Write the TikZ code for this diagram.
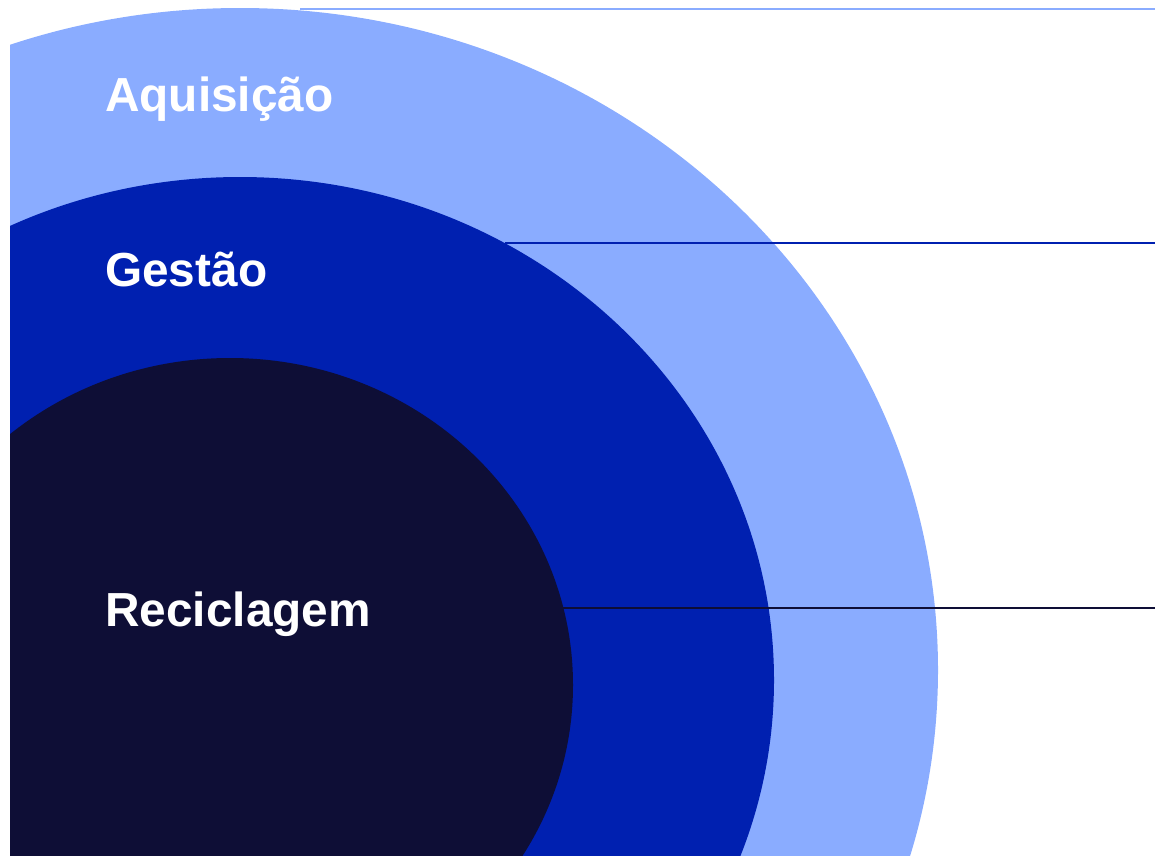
\documentclass[tikz,border=0pt]{standalone}
\usepackage{fontspec}
\setmainfont{Liberation Sans}
\usepackage{xcolor}
\definecolor{RingLight}{RGB}{138, 172, 255}
\definecolor{RingMid}{RGB}{0, 32, 176}
\definecolor{RingDark}{RGB}{14, 14, 54}
\usetikzlibrary{positioning}

\begin{document}
\begin{tikzpicture}[
        x=1pt, y=-1pt,
        stage/.style={anchor=base west, text=white, inner sep=0pt, font=\fontsize{47.8}{52}\selectfont\bfseries},
        guide/.style={line width=2pt}
    ]
        \useasboundingbox (0,0) rectangle (1155,855);

        % --- RINGS ---
        \begin{scope}
            \clip (10,0) rectangle (1155,855);
            \fill[RingLight] (240,670) ellipse [x radius=698, y radius=662];
            \fill[RingMid] (240,680) ellipse [x radius=534, y radius=503];
            \fill[RingDark] (230,685) ellipse [x radius=343, y radius=327];
        \end{scope}

        % --- LABELS ---
        \node[stage] (acq) at (105,111) {Aquisição};
        \node[stage] (ges) at (105,286) {Gestão};
        \node[stage] (rec) at (105,626) {Reciclagem};

        % --- GUIDES ---
        \coordinate (acqIn) at (300,9);
        \coordinate (acqOut) at (1155,9);
        \coordinate (gesIn) at (505,243);
        \coordinate (gesOut) at (1155,243);
        \coordinate (recIn) at (563,608);
        \coordinate (recOut) at (1155,608);

        \draw[guide, RingLight] (acqIn) -- (acqOut);
        \draw[guide, RingMid] (gesIn) -- (gesOut);
        \draw[guide, RingDark] (recIn) -- (recOut);

    \end{tikzpicture}
\end{document}
